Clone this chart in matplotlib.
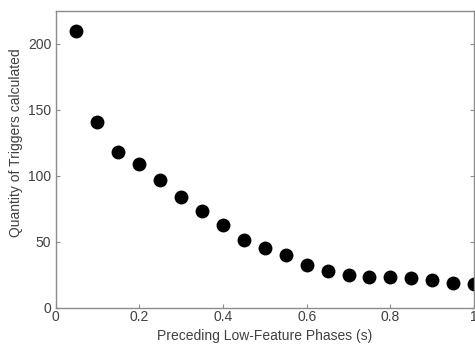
import matplotlib
matplotlib.use("Agg")
import matplotlib.pyplot as plt

plt.rcParams['font.family'] = ['Liberation Sans', 'DejaVu Sans']

phase_s = [0.05, 0.10, 0.15, 0.20, 0.25, 0.30, 0.35, 0.40, 0.45, 0.50,
           0.55, 0.60, 0.65, 0.70, 0.75, 0.80, 0.85, 0.90, 0.95, 1.00]
triggers = [210, 141, 118, 109, 97, 84, 73.5, 63, 51, 45,
            40, 32.5, 27.5, 24.5, 23, 23, 22.3, 21, 19, 17.8]

x_ticks = [0, 0.2, 0.4, 0.6, 0.8, 1]
x_ticklabels = ["0", "0.2", "0.4", "0.6", "0.8", "1"]
y_ticks = [0, 50, 100, 150, 200]

fig = plt.figure(figsize=(4.75, 3.5), dpi=100)
ax = fig.add_axes([0.117, 0.121, 0.881, 0.848])

ax.plot(phase_s, triggers, "o", color="black", markersize=10, markeredgewidth=0)

ax.set_xlim(0, 1)
ax.set_ylim(0, 225)
ax.set_xticks(x_ticks)
ax.set_xticklabels(x_ticklabels)
ax.set_yticks(y_ticks)

spine_col = "#8c8c8c"
for s in ax.spines.values():
    s.set_color(spine_col)
    s.set_linewidth(1.0)

ax.tick_params(direction="in", length=3, width=0.8, color=spine_col,
               labelcolor="#404040", labelsize=10, right=True, top=False)
ax.tick_params(axis="x", pad=2)
ax.tick_params(axis="y", pad=3)

ax.set_xlabel("Preceding Low-Feature Phases (s)", fontsize=10, color="#404040", labelpad=3)
ax.set_ylabel("Quantity of Triggers calculated", fontsize=10, color="#404040")
ax.yaxis.set_label_coords(-0.078, 0.555)

fig.savefig("out.png", dpi=100)
